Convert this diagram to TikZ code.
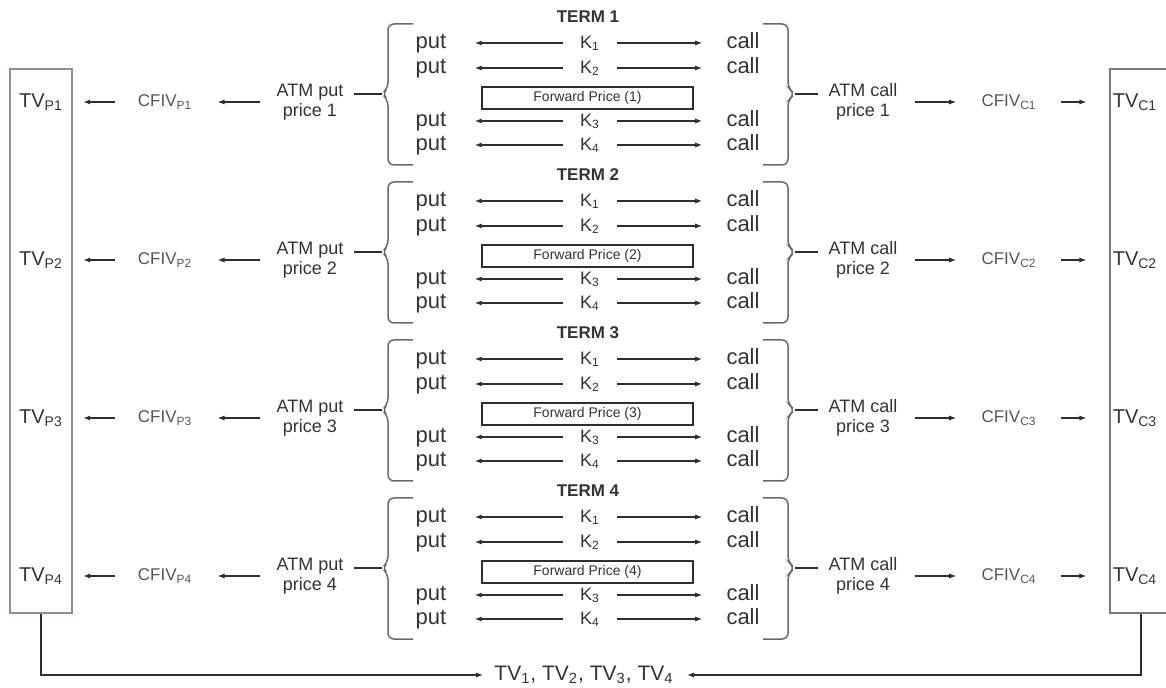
\documentclass[tikz,border=0pt]{standalone}
\usepackage{fontspec}
\setmainfont{Liberation Sans}
\usetikzlibrary{arrows.meta}
\definecolor{txt}{HTML}{333333}
\definecolor{lighttxt}{HTML}{555555}
\definecolor{linec}{HTML}{2E2E2E}
\definecolor{bracec}{HTML}{6A6A6A}
\definecolor{boxblue}{HTML}{8391B0}
\definecolor{boxgray}{HTML}{7A7A7A}
\newcommand\sbs[1]{\textsubscript{#1}}
\begin{document}
\begin{tikzpicture}[x=0.5pt,y=-0.5pt,
  lbl/.style={inner sep=0pt, text=txt},
  rowtxt/.style={lbl, font=\fontsize{11}{12}\selectfont, text height=8pt, text depth=2.3pt},
  ktxt/.style={lbl, font=\fontsize{9}{10}\selectfont, text height=8pt, text depth=2.3pt},
  ttl/.style={lbl, font=\fontsize{8.5}{10}\selectfont\bfseries},
  fwd/.style={draw=linec, line width=0.6pt, minimum width=105.5pt, minimum height=11pt, inner sep=0pt, text=txt, font=\fontsize{7}{8}\selectfont},
  atm/.style={lbl, align=center, font=\fontsize{9}{10}\selectfont},
  cf/.style={inner sep=0pt, text=lighttxt, font=\fontsize{8.5}{10}\selectfont},
  tv/.style={lbl, font=\fontsize{10}{11}\selectfont},
  btm/.style={lbl, font=\fontsize{10.5}{12}\selectfont},
  arr/.style={draw=linec, line width=0.6pt, -{Latex[length=3.5pt,width=2.6pt]}},
  ln/.style={draw=linec, line width=0.6pt},
  brc/.style={draw=bracec, line width=0.75pt, rounded corners=3pt},
  tvbox/.style={line width=0.8pt, minimum width=31pt, minimum height=272pt, inner sep=0pt}
]
\clip (0,0) rectangle (1166,688);
\node[tvbox, draw=boxblue] (boxL) at (41,341) {};
\node[tvbox, draw=boxgray] (boxR) at (1141,341) {};
\foreach \k in {1,2,3,4}{
  \pgfmathsetmacro\o{(\k-1)*158}
  \node[ttl] (T\k) at (588,17+\o) {TERM \k};
  \node[fwd] (F\k) at (587.5,98+\o) {Forward Price (\k)};
  \foreach \r/\y in {1/43,2/68,3/121,4/145}{
    \node[rowtxt] (p\k\r) at (431,\y+\o) {put};
    \node[ktxt] (K\k\r) at (590,\y+\o) {K\sbs{\r}};
    \node[rowtxt] (c\k\r) at (743,\y+\o) {call};
    \draw[arr, shorten <=8.5pt, shorten >=14pt] (K\k\r.west) -- (p\k\r.east);
    \draw[arr, shorten <=8.5pt, shorten >=12pt] (K\k\r.east) -- (c\k\r.west);
  }
  % braces
  \draw[brc] (413,24+\o) -- (388,24+\o) -- (388,88+\o) -- (382,94+\o) -- (388,100+\o) -- (388,165+\o) -- (413,165+\o);
  \coordinate (tl\k) at (382,94+\o);
  \draw[brc] (763,24+\o) -- (788,24+\o) -- (788,88+\o) -- (795,94+\o) -- (788,100+\o) -- (788,165+\o) -- (763,165+\o);
  \coordinate (tr\k) at (795,94+\o);
  % left side
  \node[atm] (ap\k) at (310,102+\o) {ATM put\\price \k};
  \node[cf] (cp\k) at (165,102+\o) {CFIV\sbs{P\k}};
  \node[tv] (tp\k) at (41,102+\o) {TV\sbs{P\k}};
  \draw[ln, shorten >=5pt] (tl\k) -- (tl\k -| ap\k.east);
  \draw[arr, shorten <=8pt, shorten >=12.5pt] (ap\k.west) -- (cp\k.east);
  \draw[arr, shorten <=11pt, shorten >=10pt] (cp\k.west) -- (tp\k.east);
  % right side
  \node[atm] (ac\k) at (863,102+\o) {ATM call\\price \k};
  \node[cf] (cc\k) at (1009,102+\o) {CFIV\sbs{C\k}};
  \node[tv] (tc\k) at (1135,102+\o) {TV\sbs{C\k}};
  \draw[ln, shorten >=5pt] (tr\k) -- (tr\k -| ac\k.west);
  \draw[arr, shorten <=8.5pt, shorten >=12.5pt] (ac\k.east) -- (cc\k.west);
  \draw[arr, shorten <=12pt, shorten >=13pt] (cc\k.east) -- (tc\k.west);
}
\node[btm] (tvall) at (584,675) {TV\sbs{1}, TV\sbs{2}, TV\sbs{3}, TV\sbs{4}};
\draw[arr, shorten >=5.5pt] (boxL.south) |- (tvall.west);
\draw[arr, shorten >=6.5pt] (boxR.south) |- (tvall.east);
\end{tikzpicture}
\end{document}
